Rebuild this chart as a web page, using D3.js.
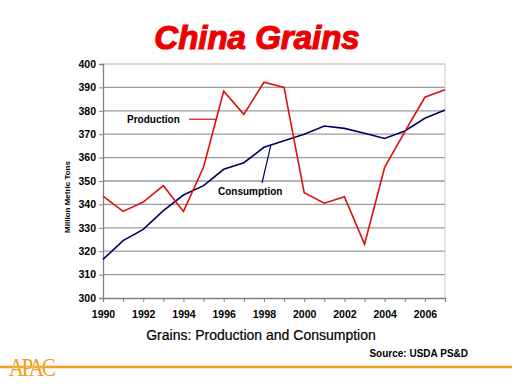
<!DOCTYPE html>
<html>
<head>
<meta charset="utf-8">
<script src="https://cdn.jsdelivr.net/npm/d3@7"></script>
<style>
  body { margin: 0; background: #fff; }
  svg { display: block; font-family: 'Liberation Sans', Arial, sans-serif; }
</style>
</head>
<body>
<svg id="chart" width="512" height="384"></svg>
<script>
// values (million metric tons)
const years = [1990, 1991, 1992, 1993, 1994, 1995, 1996, 1997, 1998, 1999,
  2000, 2001, 2002, 2003, 2004, 2005, 2006, 2007]
const production = [343.5, 337, 341, 348, 337, 356, 388.4, 378.5, 392.2, 390,
  345, 340.5, 343.3, 323, 355.8, 371, 385.8, 389]
const consumption = [316.5, 324.5, 329.3, 337.3, 344, 348, 355, 357.8, 364.4, 367.2,
  370, 373.5, 372.5, 370.4, 368.2, 371.4, 376.8, 380.3]
const yTicks = [300, 310, 320, 330, 340, 350, 360, 370, 380, 390, 400]
const xLabels = [1990, 1992, 1994, 1996, 1998, 2000, 2002, 2004, 2006]

let svg = d3.select('#chart')
let margin = {top: 64, right: 67, bottom: 86, left: 103}
let width = 512 - margin.left - margin.right
let height = 384 - margin.top - margin.bottom

let x = d3.scaleLinear().domain([1990, 2007]).range([0, width])
let y = d3.scaleLinear().domain([300, 400]).range([height, 0])

// title
svg.append('text')
    .attr('x', 257)
    .attr('y', 49)
    .attr('text-anchor', 'middle')
    .attr('fill', '#ee0000')
    .attr('stroke', '#ee0000')
    .attr('stroke-width', 1.2)
    .style('font-size', '33px')
    .style('font-weight', 'bold')
    .style('font-style', 'italic')
    .text('China Grains')

let chart = svg.append('g')
    .attr('transform', 'translate(' + margin.left + ',' + margin.top + ')')

// gridlines
chart.append('g')
    .selectAll('line')
    .data(yTicks.slice(1))
  .enter().append('line')
    .attr('x1', 0)
    .attr('x2', width)
    .attr('y1', d => y(d))
    .attr('y2', d => y(d))
    .attr('stroke', d => d === 400 ? '#c8c8c8' : '#9a9a9a')
    .attr('stroke-width', 1.3)

// right border
chart.append('line')
    .attr('x1', width).attr('x2', width)
    .attr('y1', 0).attr('y2', height)
    .attr('stroke', '#c8c8c8')

let xAxis = d3.axisBottom(x)
    .tickValues(years)
    .tickSize(4)
    .tickFormat(d => xLabels.includes(d) ? d : '')

let yAxis = d3.axisLeft(y)
    .tickValues(yTicks)
    .tickSize(4)
    .tickFormat(d3.format('d'))

let gx = chart.append('g')
    .attr('transform', 'translate(0,' + height + ')')
    .call(xAxis)
gx.select('.domain').attr('stroke', '#808080').attr('stroke-width', 1.3)
gx.selectAll('.tick line').attr('stroke', '#808080')
gx.selectAll('text')
    .attr('dy', '1.2em')
    .attr('fill', '#000')
    .style('font-size', '10.5px')
    .style('font-weight', 'bold')

let gy = chart.append('g').call(yAxis)
gy.select('.domain').attr('stroke', '#808080').attr('stroke-width', 1.3)
gy.selectAll('.tick line').attr('stroke', '#808080')
gy.selectAll('text')
    .attr('x', -7)
    .attr('fill', '#000')
    .style('font-size', '10.5px')
    .style('font-weight', 'bold')

chart.append('text')
    .attr('transform', 'rotate(-90)')
    .attr('x', -133)
    .attr('y', -33)
    .attr('text-anchor', 'middle')
    .style('font-size', '8px')
    .style('font-weight', 'bold')
    .text('Million Metric Tons')

let line = d3.line()
    .x((d, i) => x(years[i]))
    .y(d => y(d))

chart.append('path')
    .datum(consumption)
    .attr('d', line)
    .attr('fill', 'none')
    .attr('stroke', '#000066')
    .attr('stroke-width', 1.6)

chart.append('path')
    .datum(production)
    .attr('d', line)
    .attr('fill', 'none')
    .attr('stroke', '#dd1111')
    .attr('stroke-width', 1.6)

// annotations
chart.append('text')
    .attr('x', 127 - margin.left)
    .attr('y', y(376.4) + 3.5)
    .style('font-size', '10px')
    .style('font-weight', 'bold')
    .text('Production')
chart.append('line')
    .attr('x1', 189 - margin.left).attr('y1', y(376.4))
    .attr('x2', x(1995.63)).attr('y2', y(376.4))
    .attr('stroke', '#dd1111').attr('stroke-width', 1.2)

chart.append('text')
    .attr('x', 218 - margin.left)
    .attr('y', 195 - margin.top)
    .style('font-size', '10px')
    .style('font-weight', 'bold')
    .text('Consumption')
chart.append('line')
    .attr('x1', 262 - margin.left).attr('y1', 183 - margin.top)
    .attr('x2', x(1998.35)).attr('y2', y(365.5))
    .attr('stroke', '#000066').attr('stroke-width', 1.2)

// footer
svg.append('text')
    .attr('x', 261)
    .attr('y', 340)
    .attr('text-anchor', 'middle')
    .attr('stroke', '#000')
    .attr('stroke-width', 0.2)
    .style('font-size', '14px')
    .text('Grains: Production and Consumption')

svg.append('text')
    .attr('x', 468)
    .attr('y', 357)
    .attr('text-anchor', 'end')
    .style('font-size', '10px')
    .style('font-weight', 'bold')
    .text('Source: USDA PS&D')

svg.append('line')
    .attr('x1', 0).attr('x2', 512)
    .attr('y1', 367).attr('y2', 367)
    .attr('stroke', '#f0a020')
    .attr('stroke-width', 2.5)

svg.append('text')
    .attr('transform', 'translate(31,376) scale(0.85,1)')
    .attr('text-anchor', 'middle')
    .attr('fill', '#f0a020')
    .attr('stroke', '#fff')
    .attr('stroke-width', 0.6)
    .attr('paint-order', 'stroke')
    .style('font-family', "'Liberation Serif', 'DejaVu Serif', serif")
    .style('font-size', '25px')
    .style('letter-spacing', '-3px')
    .text('APAC')
</script>
</body>
</html>
